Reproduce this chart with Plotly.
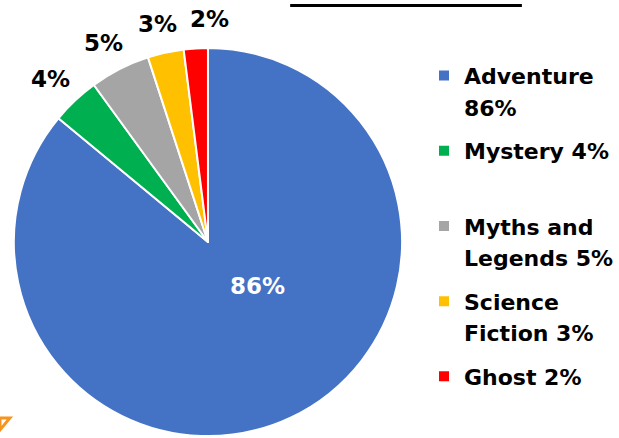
import math
import plotly.graph_objects as go

genres = ["Adventure", "Mystery", "Myths and Legends", "Science Fiction", "Ghost"]
percent = [86, 4, 5, 3, 2]
colors = ["#4472C4", "#00B050", "#A5A5A5", "#FFC000", "#FF0000"]
legend_lines = [["Adventure", "86%"], ["Mystery 4%", " "], ["Myths and", "Legends 5%"],
                ["Science", "Fiction 3%"], ["Ghost 2%"]]

W, H = 619, 438
FONT = "DejaVu Sans"
CX, CY, R = 210, 242, 196  # pie centre and radius in pixels

fig = go.Figure()
fig.add_trace(go.Pie(
    labels=genres,
    values=percent,
    sort=False,
    direction="clockwise",
    rotation=0,
    marker=dict(colors=colors, line=dict(color="white", width=2)),
    textinfo="none",
    domain=dict(x=[(CX - R) / W, (CX + R) / W], y=[(H - CY - R) / H, (H - CY + R) / H]),
    showlegend=False,
    hoverinfo="label+percent",
))

# legend entries (one entry per text line, grouped per genre)
for i, lines in enumerate(legend_lines):
    for j, line in enumerate(lines):
        fig.add_trace(go.Scatter(
            x=[None], y=[None], mode="markers", name=line,
            legendgroup=f"g{i}",
            marker=dict(symbol="square", size=10,
                        color=colors[i] if j == 0 else "rgba(0,0,0,0)"),
            showlegend=True, hoverinfo="skip",
        ))

# percentage labels placed at slice mid-angles (outside labels pushed apart if overlapping)
total = sum(percent)
BW, BH, GAP = 38, 20, 14
annotations = []
cum = 0
prev_right = None
for i, v in enumerate(percent):
    mid = (cum + v / 2) / total * 2 * math.pi
    cum += v
    if i == 0:
        ang, rr = math.radians(131), 0.34 * R
        px = CX + rr * math.sin(ang)
        py = CY - rr * math.cos(ang)
        col = "white"
    else:
        d = R + 17
        s, c = math.sin(mid), math.cos(mid)
        px = CX + d * s + s * BW / 2
        py = CY - d * c - c * BH / 2
        if prev_right is not None and px - BW / 2 < prev_right + GAP:
            px = prev_right + GAP + BW / 2
        prev_right = px + BW / 2
        col = "black"
    annotations.append(dict(
        x=px / W, y=(H - py) / H, xref="paper", yref="paper",
        text=f"{v}%", showarrow=False, xanchor="center", yanchor="middle",
        font=dict(family=FONT, size=23, color=col, weight="bold"),
    ))

fig.update_layout(
    width=W, height=H,
    margin=dict(l=0, r=0, t=0, b=0),
    paper_bgcolor="white",
    plot_bgcolor="white",
    xaxis=dict(visible=False),
    yaxis=dict(visible=False),
    showlegend=True,
    legend=dict(
        x=0.692, y=0.875, xanchor="left", yanchor="top",
        traceorder="grouped", tracegroupgap=12,
        font=dict(family=FONT, size=22, color="black", weight="bold"),
        bgcolor="rgba(0,0,0,0)",
    ),
    annotations=annotations,
    shapes=[
        dict(type="line", xref="paper", yref="paper",
             x0=293 / W, x1=527 / W, y0=(H - 5.5) / H, y1=(H - 5.5) / H,
             line=dict(color="black", width=3)),
        dict(type="path", xref="paper", yref="paper",
             path=f"M 0 {(H-418)/H} L {10/W} {(H-418)/H} L 0 {(H-430)/H} Z",
             line=dict(color="#F7941D", width=3), fillcolor="rgba(0,0,0,0)"),
    ],
)

fig.write_html("out.html")
